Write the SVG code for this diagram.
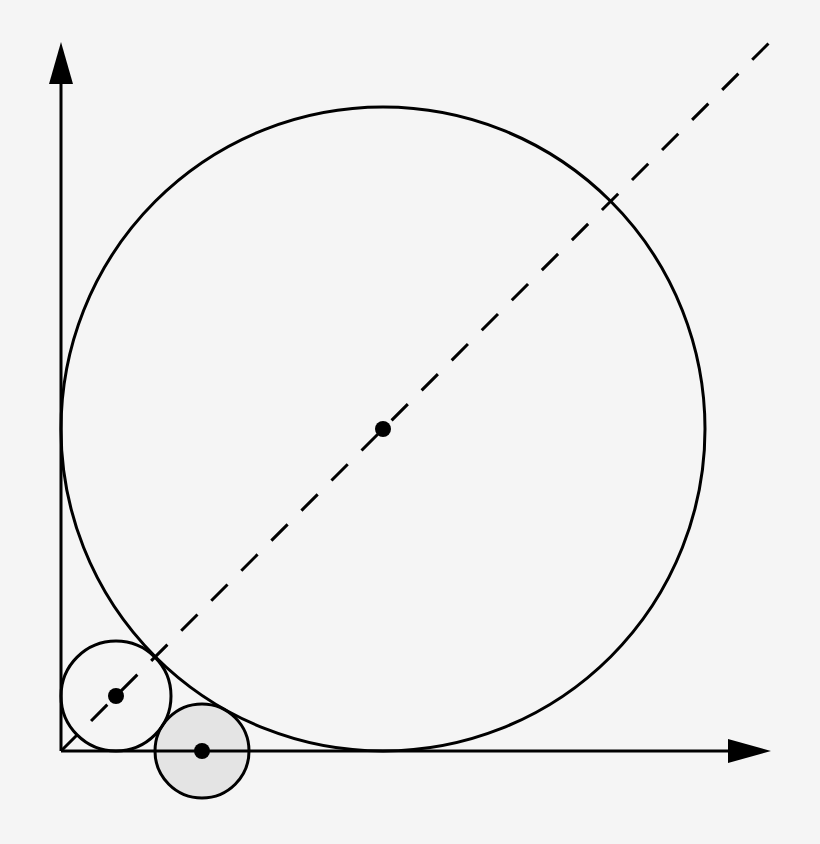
<svg xmlns="http://www.w3.org/2000/svg" width="820" height="844" viewBox="0 0 820 844">
  <style>
    .ln { stroke: #000; stroke-width: 3; fill: none; }
    .dash { stroke: #000; stroke-width: 3; fill: none; stroke-dasharray: 23 19.5; }
    .dot { fill: #000; }
    .head { fill: #000; }
  </style>
  <rect width="820" height="844" fill="#f5f5f5"/>
  <g id="gray-circle">
    <circle cx="202" cy="751" r="47" fill="#e4e4e4" stroke="#000" stroke-width="3"/>
  </g>
  <g id="connectors">
    <line class="ln" x1="61" y1="751" x2="61" y2="80"/>
    <polygon class="head" points="61,42 49,84 73,84"/>
    <line class="ln" x1="61" y1="751" x2="732" y2="751"/>
    <polygon class="head" points="771,751 728,739 728,763"/>
    <line class="dash" x1="61" y1="751" x2="770" y2="42"/>
  </g>
  <g id="big-circle">
    <circle class="ln" cx="383" cy="429" r="322"/>
    <circle class="dot" cx="383" cy="429" r="8"/>
  </g>
  <g id="small-circle">
    <circle class="ln" cx="116" cy="696" r="55"/>
    <circle class="dot" cx="116" cy="696" r="8"/>
  </g>
  <g id="gray-center">
    <circle class="dot" cx="202" cy="751" r="8"/>
  </g>
</svg>
